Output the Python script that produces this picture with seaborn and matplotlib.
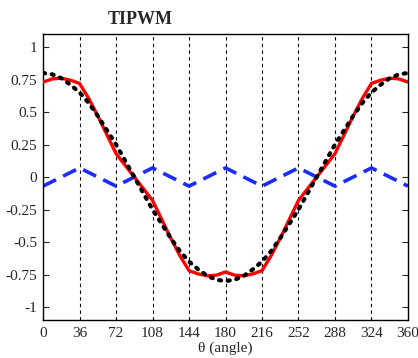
import matplotlib
matplotlib.use("Agg")
import matplotlib.pyplot as plt
import numpy as np
import pandas as pd
import seaborn as sns

# angle samples (deg)
theta = list(range(0, 361, 9))

# reference (black dotted)
ref = [0.80, 0.79, 0.76, 0.71, 0.65, 0.57, 0.47, 0.36, 0.25, 0.125,
       0.0, -0.125, -0.25, -0.36, -0.47, -0.57, -0.65, -0.71, -0.76, -0.79,
       -0.80, -0.79, -0.76, -0.71, -0.65, -0.57, -0.47, -0.36, -0.25, -0.125,
       0.0, 0.125, 0.25, 0.36, 0.47, 0.57, 0.65, 0.71, 0.76, 0.79, 0.80]

# TIPWM modulating signal (red solid)
tipwm = [0.73, 0.755, 0.76, 0.745, 0.72, 0.605, 0.47, 0.325, 0.18, 0.09,
         0.0, -0.09, -0.18, -0.325, -0.47, -0.605, -0.72, -0.745, -0.76, -0.755,
         -0.73, -0.755, -0.76, -0.745, -0.72, -0.605, -0.47, -0.325, -0.18, -0.09,
         0.0, 0.09, 0.18, 0.325, 0.47, 0.605, 0.72, 0.745, 0.76, 0.755, 0.73]

# injected triangle (blue dashed)
tri_theta = [0, 36, 72, 108, 144, 180, 216, 252, 288, 324, 360]
tri = [-0.07, 0.07, -0.07, 0.07, -0.07, 0.07, -0.07, 0.07, -0.07, 0.07, -0.07]

xticks = list(range(0, 361, 36))
yticks = [-1, -0.75, -0.5, -0.25, 0, 0.25, 0.5, 0.75, 1]
ylabels = ["-1", "-0.75", "-0.5", "-0.25", "0", "0.25", "0.5", "0.75", "1"]

sns.set_style("white")
plt.rcParams['font.family'] = ['Liberation Serif', 'DejaVu Serif']

df = pd.DataFrame({"theta": theta, "ref": ref, "tipwm": tipwm})
df_tri = pd.DataFrame({"theta": tri_theta, "tri": tri})

fig = plt.figure(figsize=(4.18, 3.58), dpi=100)
ax = fig.add_axes([0.103, 0.106, 0.873, 0.799])

for xt in xticks[1:-1]:
    ax.axvline(xt, color="black", lw=0.8, ls=(0, (3, 3)), zorder=1)

sns.lineplot(data=df_tri, x="theta", y="tri", ax=ax, color="#1a2cff", lw=2.6,
             linestyle=(0, (4, 2.2)), zorder=2)
sns.lineplot(data=df, x="theta", y="tipwm", ax=ax, color="#ff0000", lw=2.4, zorder=3)
sns.lineplot(data=df, x="theta", y="ref", ax=ax, color="black", lw=3,
             linestyle=(0, (0.5, 1.6)), dash_capstyle="round", zorder=4)

ax.set_xlim(0, 360)
ax.set_ylim(-1.1, 1.1)
ax.set_xticks(xticks)
ax.set_xticklabels([str(x) for x in xticks], fontsize=11)
ax.set_yticks(yticks)
ax.set_yticklabels(ylabels, fontsize=11)
ax.tick_params(axis="x", length=0, pad=5)
ax.tick_params(axis="y", direction="in", length=4, width=0.8, right=True, left=True, pad=4)
ax.set_xlabel("θ (angle)", fontsize=11, labelpad=1)
ax.set_ylabel("")
for s in ax.spines.values():
    s.set_color("black")
    s.set_linewidth(1.0)

fig.text(0.335, 0.945, "TIPWM", fontsize=13, fontweight="bold", ha="center", va="center")

fig.savefig("out.png", dpi=100)
